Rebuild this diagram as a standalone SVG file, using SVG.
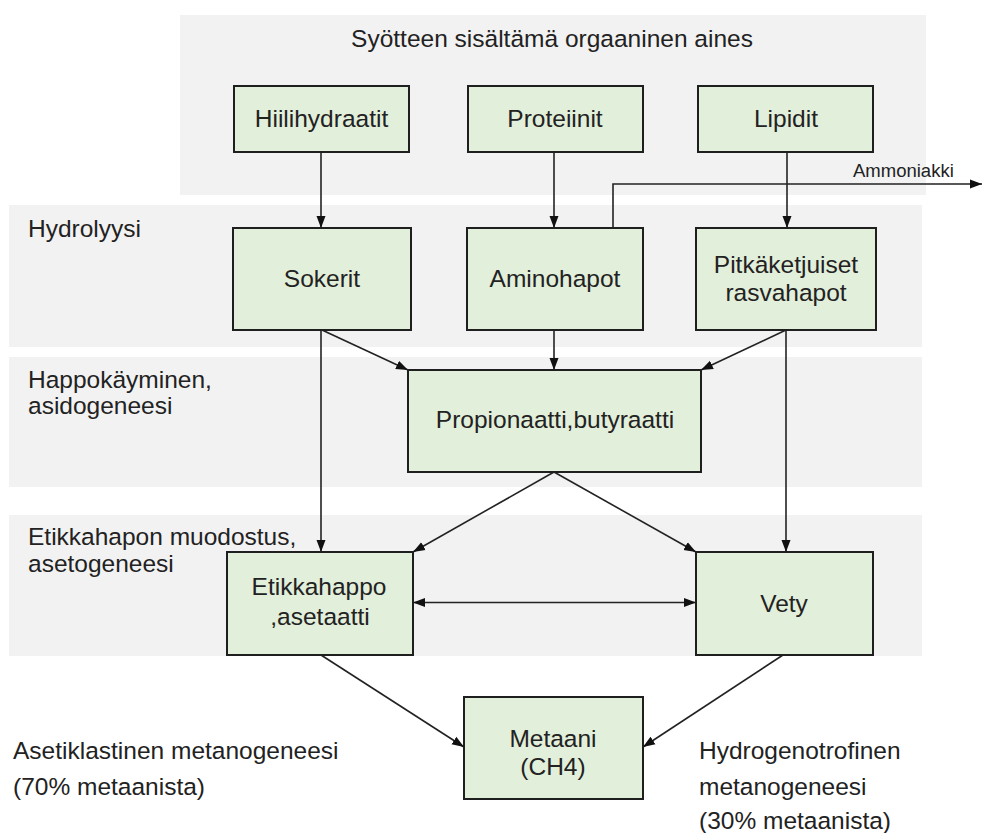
<svg xmlns="http://www.w3.org/2000/svg" width="982" height="833" viewBox="0 0 982 833">
<style>
.band{fill:#f2f2f2;stroke:none}
.box{fill:#e2efda;stroke:#1f1f1f;stroke-width:2}
.t{font-family:"Liberation Sans",Arial,sans-serif;font-size:24.5px;fill:#222}
.c{text-anchor:middle}
.small{font-size:18.5px}
.con{fill:none;stroke:#222;stroke-width:1.6}
</style>
<defs>
<marker id="ah" markerUnits="userSpaceOnUse" markerWidth="12" markerHeight="10" refX="12" refY="5" orient="auto-start-reverse">
<path d="M0,0.5 L12,5 L0,9.5 z" fill="#111"/>
</marker>
</defs>
<rect width="982" height="833" fill="#fff"/>
<g id="bands">
<rect class="band" x="180" y="15" width="746" height="180"/>
<rect class="band" x="9" y="205" width="913" height="142"/>
<rect class="band" x="9" y="357" width="913" height="130"/>
<rect class="band" x="9" y="515" width="913" height="141"/>
</g>
<g id="labels">
<text class="t c" x="552" y="47">Syötteen sisältämä orgaaninen aines</text>
<text class="t" x="28" y="237">Hydrolyysi</text>
<text class="t" x="28" y="388">Happokäyminen,</text>
<text class="t" x="28" y="414">asidogeneesi</text>
<text class="t" x="28" y="545">Etikkahapon muodostus,</text>
<text class="t" x="28" y="572">asetogeneesi</text>
<text class="t" x="13" y="759">Asetiklastinen metanogeneesi</text>
<text class="t" x="13" y="795">(70% metaanista)</text>
<text class="t" x="699" y="759">Hydrogenotrofinen</text>
<text class="t" x="699" y="795">metanogeneesi</text>
<text class="t" x="699" y="829">(30% metaanista)</text>
</g>
<g id="connectors">
<path class="con" d="M321,152 V228" marker-end="url(#ah)"/>
<path class="con" d="M554,152 V228" marker-end="url(#ah)"/>
<path class="con" d="M787,152 V228" marker-end="url(#ah)"/>
<path class="con" d="M613,228 V184 H982" marker-end="url(#ah)"/>
<text class="t small" x="853" y="177">Ammoniakki</text>
<path class="con" d="M322,330 L408,370" marker-end="url(#ah)"/>
<path class="con" d="M554,330 V370" marker-end="url(#ah)"/>
<path class="con" d="M786,330 L701,370" marker-end="url(#ah)"/>
<path class="con" d="M321,330 V552" marker-end="url(#ah)"/>
<path class="con" d="M786,330 V552" marker-end="url(#ah)"/>
<path class="con" d="M554,472 L413,552" marker-end="url(#ah)"/>
<path class="con" d="M554,472 L696,552" marker-end="url(#ah)"/>
<path class="con" d="M413,602.5 H696" marker-start="url(#ah)" marker-end="url(#ah)"/>
<path class="con" d="M321,655 L464,747" marker-end="url(#ah)"/>
<path class="con" d="M783,655 L643,747" marker-end="url(#ah)"/>
</g>
<g id="hiilihydraatit">
<rect class="box" x="234" y="86" width="175" height="66"/>
<text class="t c" x="321.5" y="127">Hiilihydraatit</text>
</g>
<g id="proteiinit">
<rect class="box" x="468" y="86" width="175" height="66"/>
<text class="t c" x="555" y="127">Proteiinit</text>
</g>
<g id="lipidit">
<rect class="box" x="698" y="86" width="175" height="66"/>
<text class="t c" x="786" y="127">Lipidit</text>
</g>
<g id="sokerit">
<rect class="box" x="233" y="228" width="178" height="102"/>
<text class="t c" x="322" y="287">Sokerit</text>
</g>
<g id="aminohapot">
<rect class="box" x="467" y="228" width="176" height="102"/>
<text class="t c" x="555" y="287">Aminohapot</text>
</g>
<g id="pitkaketjuiset">
<rect class="box" x="696" y="228" width="180" height="102"/>
<text class="t c" x="786" y="273">Pitkäketjuiset</text>
<text class="t c" x="786" y="301">rasvahapot</text>
</g>
<g id="propionaatti">
<rect class="box" x="408" y="370" width="293" height="102"/>
<text class="t c" x="555" y="428">Propionaatti,butyraatti</text>
</g>
<g id="etikkahappo">
<rect class="box" x="227" y="552" width="186" height="103"/>
<text class="t c" x="319" y="595">Etikkahappo</text>
<text class="t c" x="320" y="625">,asetaatti</text>
</g>
<g id="vety">
<rect class="box" x="696" y="552" width="177" height="103"/>
<text class="t c" x="784" y="612">Vety</text>
</g>
<g id="metaani">
<rect class="box" x="464" y="697" width="179" height="102"/>
<text class="t c" x="553" y="747">Metaani</text>
<text class="t c" x="553" y="775">(CH4)</text>
</g>
</svg>
